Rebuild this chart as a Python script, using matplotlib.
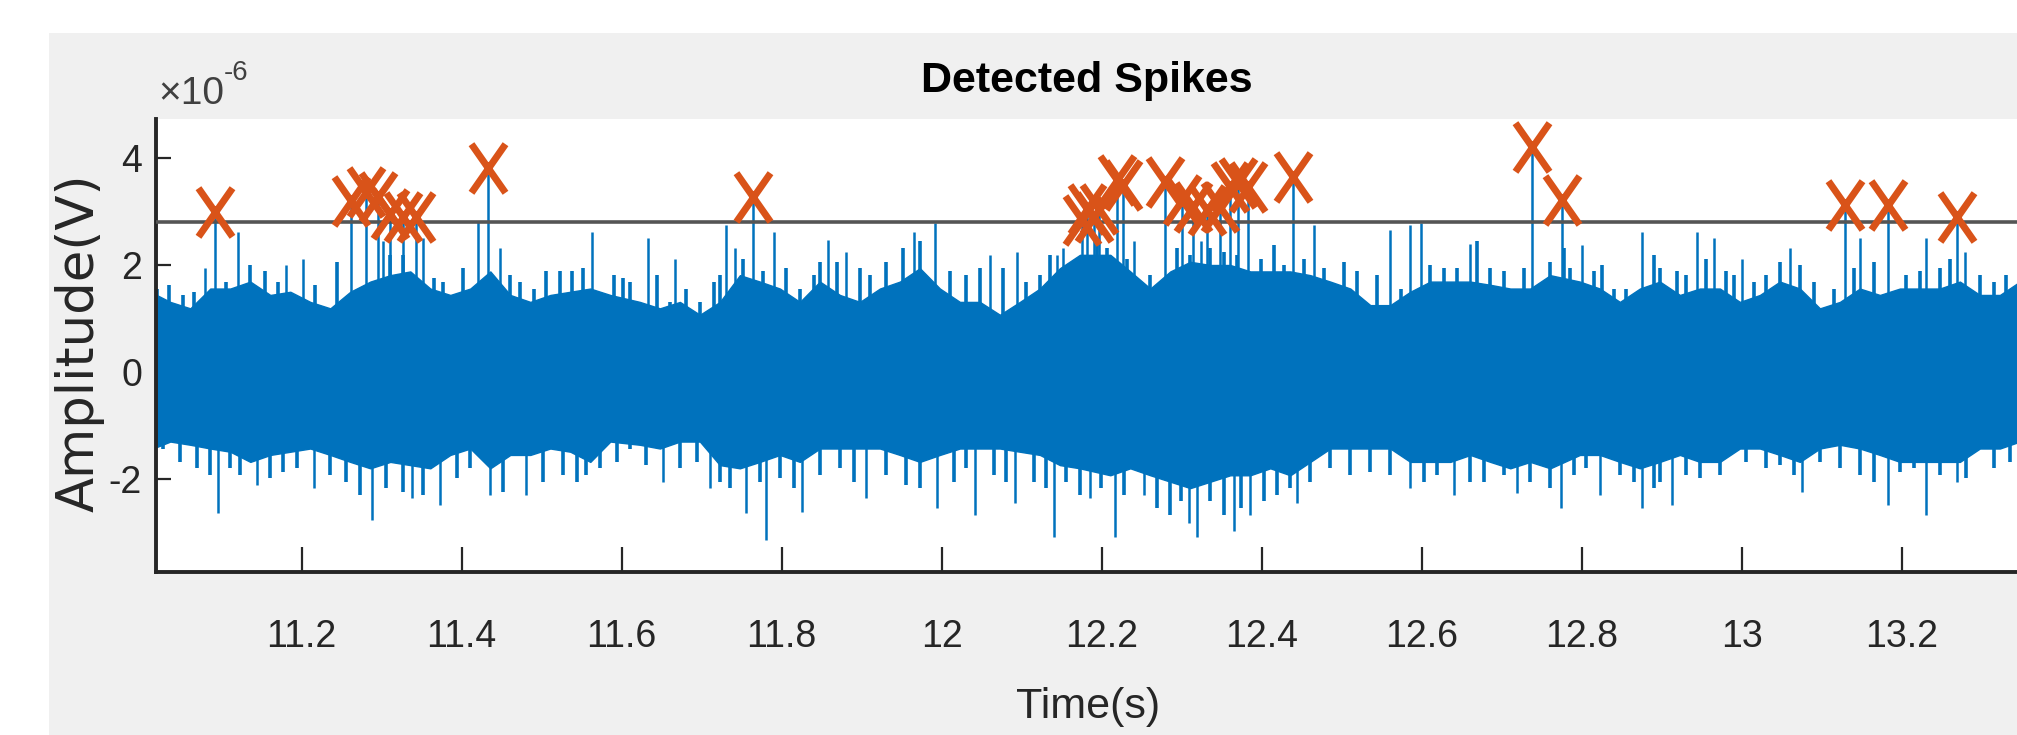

import matplotlib
matplotlib.use("Agg")
import matplotlib.pyplot as plt
from matplotlib.patches import Rectangle
from matplotlib.path import Path

BLUE = "#0072BD"
ORANGE = "#D95319"
INK = "#262626"
GRID_GRAY = "#555555"

plt.rcParams["font.family"] = ["Liberation Sans Narrow", "Liberation Sans", "DejaVu Sans"]
plt.rcParams["axes.unicode_minus"] = False

# envelope of the dense trace (units of 1e-6 V)
env_time = [
    11.011, 11.036, 11.061, 11.086, 11.111, 11.136, 11.161, 11.186, 11.211, 11.236, 11.261, 11.286,
    11.311, 11.336, 11.361, 11.386, 11.411, 11.436, 11.461, 11.486, 11.511, 11.536, 11.561, 11.586,
    11.623, 11.648, 11.673, 11.698, 11.723, 11.748, 11.773, 11.798, 11.823, 11.848, 11.873, 11.898,
    11.923, 11.948, 11.973, 11.998, 12.023, 12.048, 12.073, 12.098, 12.123, 12.148, 12.173,
    12.211, 12.236, 12.261, 12.286, 12.311, 12.336, 12.361, 12.386, 12.411, 12.436, 12.461, 12.486,
    12.511, 12.536, 12.561, 12.586, 12.611, 12.636, 12.661, 12.686, 12.711, 12.736, 12.761,
    12.798, 12.823, 12.848, 12.873, 12.898, 12.923, 12.948, 12.973, 12.998, 13.023, 13.048, 13.073,
    13.098, 13.123, 13.148, 13.173, 13.198, 13.223, 13.248, 13.273, 13.298, 13.323, 13.348, 13.373,
]
env_upper = [
    1.50, 1.31, 1.19, 1.56, 1.56, 1.69, 1.44, 1.50, 1.31, 1.19, 1.50, 1.69,
    1.81, 1.88, 1.56, 1.44, 1.56, 1.88, 1.44, 1.31, 1.44, 1.50, 1.56, 1.44,
    1.31, 1.19, 1.31, 1.07, 1.31, 1.81, 1.69, 1.56, 1.31, 1.69, 1.44, 1.31,
    1.56, 1.69, 1.94, 1.56, 1.31, 1.31, 1.07, 1.31, 1.56, 1.94, 2.19,
    2.19, 1.88, 1.56, 1.88, 2.06, 2.00, 2.00, 1.88, 1.88, 1.88, 1.81, 1.69,
    1.56, 1.25, 1.25, 1.50, 1.69, 1.69, 1.69, 1.63, 1.56, 1.56, 1.81,
    1.69, 1.56, 1.31, 1.56, 1.69, 1.44, 1.56, 1.56, 1.31, 1.44, 1.69, 1.56,
    1.19, 1.31, 1.56, 1.44, 1.56, 1.56, 1.56, 1.69, 1.44, 1.44, 1.69, 1.56,
]
env_lower = [
    -1.45, -1.30, -1.36, -1.43, -1.49, -1.68, -1.55, -1.49, -1.43, -1.55, -1.68, -1.80,
    -1.68, -1.74, -1.80, -1.55, -1.43, -1.80, -1.55, -1.55, -1.43, -1.49, -1.68, -1.30,
    -1.36, -1.43, -1.30, -1.30, -1.74, -1.80, -1.68, -1.55, -1.68, -1.43, -1.43, -1.43,
    -1.43, -1.55, -1.68, -1.55, -1.43, -1.43, -1.43, -1.49, -1.55, -1.74, -1.80,
    -1.93, -1.80, -1.93, -2.05, -2.17, -2.05, -1.93, -1.93, -1.80, -1.93, -1.68, -1.43,
    -1.43, -1.43, -1.43, -1.68, -1.68, -1.68, -1.55, -1.68, -1.80, -1.68, -1.80,
    -1.55, -1.55, -1.68, -1.80, -1.68, -1.55, -1.68, -1.68, -1.43, -1.43, -1.55, -1.68,
    -1.43, -1.36, -1.43, -1.55, -1.68, -1.68, -1.68, -1.68, -1.43, -1.43, -1.30, -1.43,
]

# tall single-sample excursions above / below the band
peak_time = [
    11.079, 11.121, 11.181, 11.202, 11.302, 11.352, 11.421, 11.448, 11.563,
    11.633, 11.667, 11.731, 11.742, 11.790, 11.858, 11.881, 11.965, 11.992,
    12.061, 12.094, 12.144, 12.152, 12.240, 12.324, 12.465, 12.561, 12.586,
    12.599, 12.661, 12.800, 12.875, 12.944, 12.965, 13.000, 13.061, 13.148,
    13.231, 13.279,
]
peak_value = [
    1.94, 2.62, 2.00, 2.12, 2.44, 2.50, 2.81, 2.31, 2.62,
    2.50, 2.12, 2.75, 2.31, 2.62, 2.47, 2.25, 2.62, 2.78,
    2.19, 2.25, 2.19, 2.31, 2.44, 2.44, 2.75, 2.65, 2.75,
    2.78, 2.40, 2.37, 2.62, 2.62, 2.50, 2.12, 2.31, 2.50,
    2.50, 2.25,
]
trough_time = [
    11.096, 11.144, 11.215, 11.288, 11.338, 11.373, 11.436, 11.481,
    11.652, 11.710, 11.756, 11.781, 11.825, 11.906, 11.994, 12.042, 12.092, 12.140, 12.185,
    12.217, 12.253, 12.309, 12.319, 12.365, 12.386, 12.444, 12.586, 12.640, 12.719, 12.774,
    12.823, 12.875, 12.913, 13.075, 13.183, 13.231, 13.269,
]
trough_value = [
    -2.64, -2.11, -2.17, -2.77, -2.36, -2.49, -2.30, -2.30,
    -2.05, -2.17, -2.64, -3.14, -2.61, -2.36, -2.55, -2.67, -2.45, -3.08, -2.36,
    -3.08, -2.30, -2.83, -3.08, -2.98, -2.67, -2.45, -2.17, -2.30, -2.27, -2.55,
    -2.30, -2.55, -2.49, -2.24, -2.49, -2.67, -2.05,
]

# shorter ragged tips along the edges of the band
fringe_up_time = [
    11.019, 11.034, 11.052, 11.065, 11.106, 11.136, 11.154, 11.171, 11.217, 11.244, 11.311, 11.327,
    11.365, 11.377, 11.402, 11.461, 11.473, 11.490, 11.506, 11.523, 11.538, 11.552, 11.590, 11.602,
    11.611, 11.644, 11.661, 11.681, 11.698, 11.715, 11.723, 11.752, 11.777, 11.806, 11.823, 11.840,
    11.848, 11.869, 11.898, 11.911, 11.931, 11.952, 11.973, 12.011, 12.031, 12.048, 12.077, 12.106,
    12.123, 12.136, 12.165,
    12.194, 12.207, 12.232, 12.261, 12.294, 12.311, 12.336, 12.353, 12.369, 12.399, 12.415, 12.428,
    12.453, 12.478, 12.503, 12.519, 12.544, 12.574, 12.611, 12.628, 12.644, 12.669, 12.686, 12.703,
    12.728, 12.761, 12.778,
    12.786, 12.815, 12.825, 12.840, 12.856, 12.890, 12.898, 12.919, 12.931, 12.956, 12.981, 12.990,
    13.015, 13.031, 13.048, 13.073, 13.090, 13.115, 13.140, 13.165, 13.206, 13.223, 13.248, 13.260,
    13.298, 13.315, 13.331,
]
fringe_up_value = [
    1.56, 1.63, 1.44, 1.50, 1.69, 2.00, 1.88, 1.69, 1.63, 2.06, 2.19, 2.19,
    1.75, 1.69, 1.94, 1.81, 1.69, 1.56, 1.88, 1.88, 1.88, 1.94, 1.81, 1.75,
    1.69, 1.81, 1.31, 1.56, 1.31, 1.69, 1.81, 2.12, 1.88, 1.94, 1.56, 1.81,
    2.06, 2.06, 1.94, 1.81, 2.06, 2.31, 2.44, 1.88, 1.81, 1.94, 1.94, 1.69,
    1.81, 2.19, 2.00,
    2.37, 2.31, 2.12, 1.81, 2.31, 2.19, 2.31, 2.24, 2.19, 2.12, 2.37, 2.00,
    2.12, 1.94, 2.06, 1.88, 1.81, 1.56, 2.00, 1.94, 1.94, 2.44, 1.94, 1.88,
    1.94, 2.06, 2.31,
    1.94, 1.88, 2.00, 1.56, 1.56, 2.19, 1.94, 1.88, 1.81, 2.12, 1.88, 1.81,
    1.69, 1.81, 2.06, 2.00, 1.69, 1.56, 1.94, 2.06, 1.81, 1.88, 1.94, 2.12,
    1.81, 1.69, 1.81,
]
fringe_down_time = [
    11.027, 11.048, 11.069, 11.086, 11.111, 11.123, 11.161, 11.177, 11.194, 11.236, 11.256, 11.273,
    11.306, 11.327, 11.352, 11.394, 11.411, 11.452, 11.502, 11.527, 11.544, 11.556, 11.573, 11.594,
    11.611, 11.631, 11.673, 11.694, 11.723, 11.736, 11.773, 11.798, 11.815, 11.848, 11.873, 11.890,
    11.931, 11.956, 11.973, 12.015, 12.031, 12.065, 12.081, 12.115, 12.131, 12.156, 12.173,
    12.199, 12.228, 12.269, 12.286, 12.299, 12.336, 12.353, 12.374, 12.403, 12.419, 12.436, 12.461,
    12.486, 12.511, 12.536, 12.561, 12.603, 12.619, 12.661, 12.678, 12.703, 12.736, 12.761,
    12.790, 12.806, 12.848, 12.865, 12.890, 12.898, 12.931, 12.948, 12.973, 13.006, 13.031, 13.048,
    13.065, 13.098, 13.123, 13.148, 13.165, 13.198, 13.215, 13.248, 13.281, 13.315, 13.335,
]
fringe_down_value = [
    -1.43, -1.68, -1.80, -1.93, -1.80, -1.93, -1.99, -1.86, -1.80, -1.93, -2.05, -2.30,
    -2.17, -2.24, -2.30, -1.99, -1.80, -2.24, -2.05, -1.93, -2.05, -1.93, -1.80, -1.68,
    -1.43, -1.74, -1.80, -1.68, -2.05, -2.17, -2.05, -1.99, -2.17, -1.93, -1.80, -2.05,
    -1.93, -2.11, -2.17, -2.05, -1.80, -1.93, -2.05, -2.05, -2.17, -2.05, -2.30,
    -2.17, -2.30, -2.55, -2.67, -2.42, -2.42, -2.67, -2.55, -2.42, -2.30, -2.17, -2.05,
    -1.80, -1.93, -1.86, -1.93, -2.05, -1.93, -2.05, -2.05, -1.93, -2.05, -2.17,
    -1.93, -1.80, -1.93, -2.05, -2.17, -2.05, -1.93, -1.99, -1.93, -1.68, -1.80, -1.74,
    -1.93, -1.68, -1.80, -1.93, -2.05, -1.86, -1.80, -1.93, -1.99, -1.80, -1.68,
]

# peaks flagged by the detector
spike_time = [
    11.092, 11.262, 11.280, 11.295, 11.310, 11.327, 11.343, 11.433, 11.764,
    12.175, 12.182, 12.190, 12.197, 12.219, 12.227, 12.279, 12.301, 12.314,
    12.332, 12.348, 12.361, 12.371, 12.383, 12.439, 12.738, 12.776,
    13.129, 13.183, 13.269,
]
spike_amp = [
    2.99, 3.20, 3.36, 3.28, 2.95, 2.90, 2.90, 3.81, 3.28,
    2.85, 3.05, 2.90, 3.05, 3.59, 3.50, 3.55, 3.21, 3.08,
    3.03, 3.08, 3.46, 3.53, 3.46, 3.64, 4.21, 3.21,
    3.12, 3.12, 2.90,
]
threshold = 2.80

x_ticks = [11.2, 11.4, 11.6, 11.8, 12.0, 12.2, 12.4, 12.6, 12.8, 13.0, 13.2]
x_tick_labels = ["11.2", "11.4", "11.6", "11.8", "12", "12.2", "12.4", "12.6", "12.8", "13", "13.2"]
y_ticks = [-2, 0, 2, 4]
y_tick_labels = ["-2", "0", "2", "4"]

W, H = 2017, 735
fig = plt.figure(figsize=(W / 100, H / 100), dpi=100, facecolor="white")
fig.patches.append(Rectangle((49 / W, 0), 1, 1 - 33 / H, transform=fig.transFigure,
                             facecolor="#f0f0f0", edgecolor="none", zorder=-5))

# the axes runs off the right edge of the screenshot
ax = fig.add_axes([156 / W, 1 - 572 / H, (2141.5 - 156) / W, (572 - 119) / H])
ax.set_facecolor("white")

ax.fill_between(env_time, env_lower, env_upper, color=BLUE, linewidth=1.0, zorder=2)
ax.vlines(fringe_up_time, 0, fringe_up_value, color=BLUE, linewidth=2.6, zorder=2)
ax.vlines(fringe_down_time, fringe_down_value, 0, color=BLUE, linewidth=2.6, zorder=2)
ax.vlines(peak_time, 0, peak_value, color=BLUE, linewidth=1.8, zorder=2)
ax.vlines(trough_time, trough_value, 0, color=BLUE, linewidth=1.8, zorder=2)
ax.vlines(spike_time, 0, spike_amp, color=BLUE, linewidth=1.8, zorder=2)
ax.axhline(threshold, color=GRID_GRAY, linewidth=2.6, zorder=3)

cross = Path([(-0.7, -1), (0.7, 1), (-0.7, 1), (0.7, -1)],
             [Path.MOVETO, Path.LINETO, Path.MOVETO, Path.LINETO])
ax.plot(spike_time, spike_amp, linestyle="none", marker=cross, markersize=35,
        markeredgewidth=5.0, markeredgecolor=ORANGE, zorder=4)

ax.set_xlim(11.0181, 13.5)
ax.set_ylim(-3.738, 4.729)
ax.set_xticks(x_ticks, labels=x_tick_labels)
ax.set_yticks(y_ticks, labels=y_tick_labels)
ax.tick_params(axis="x", direction="in", length=18, width=1.6, pad=34, labelsize=27,
               color=INK, labelcolor=INK)
ax.tick_params(axis="y", direction="in", length=11, width=1.6, pad=10, labelsize=27,
               color=INK, labelcolor=INK)
for side in ("top", "right"):
    ax.spines[side].set_visible(False)
for side in ("left", "bottom"):
    ax.spines[side].set_linewidth(2.8)
    ax.spines[side].set_color(INK)

fig.text(1087 / W, 1 - 92 / H, "Detected Spikes", ha="center", va="baseline",
         fontsize=31, fontweight="bold", color="black")
fig.text(1088 / W, 1 - 718 / H, "Time(s)", ha="center", va="baseline", fontsize=31, color=INK)
fig.text(80 / W, 1 - 343 / H, "Amplitude(V)", ha="center", va="center", rotation=90,
         fontsize=37, color=INK, family=["DejaVu Sans"])
fig.text(158 / W, 1 - 104 / H, "\u00d710", ha="left", va="baseline", fontsize=28, color="#404040")
fig.text(224 / W, 1 - 80 / H, "-6", ha="left", va="baseline", fontsize=20, color="#404040")

fig.savefig("out.png", dpi=100, facecolor="white")
